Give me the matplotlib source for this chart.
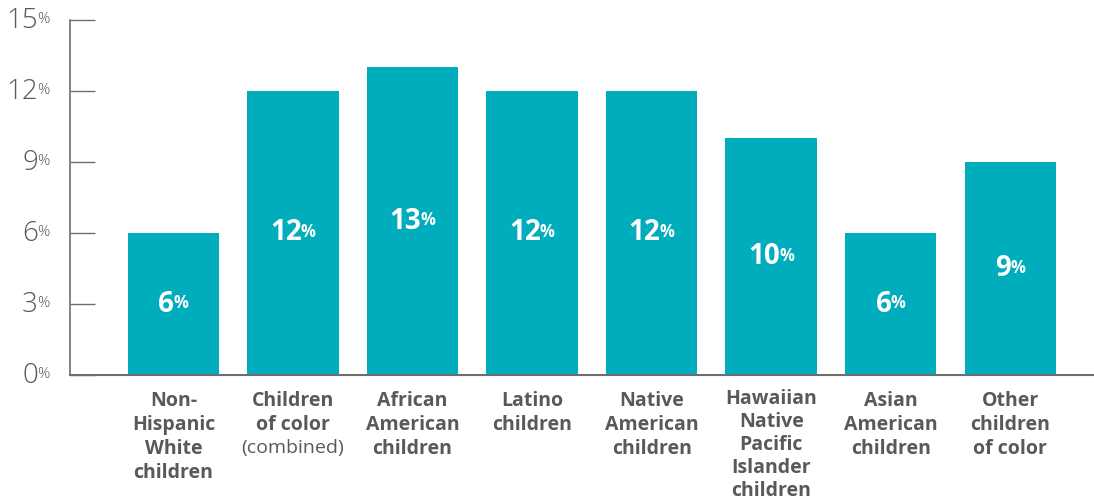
import matplotlib
matplotlib.use('Agg')
import matplotlib.pyplot as plt

# values (percent)
categories = [
    'Non-\nHispanic\nWhite\nchildren',
    'Children\nof color\n(combined)',
    'African\nAmerican\nchildren',
    'Latino\nchildren',
    'Native\nAmerican\nchildren',
    'Hawaiian\nNative\nPacific\nIslander\nchildren',
    'Asian\nAmerican\nchildren',
    'Other\nchildren\nof color',
]
values = [6, 12, 13, 12, 12, 10, 6, 9]
yticks = [0, 3, 6, 9, 12, 15]
light_lines = ['(combined)']

teal = '#00adbd'
gray = '#58595b'
axis_gray = '#6d6e70'
font = ['Open Sans', 'DejaVu Sans']

plt.rcParams['font.family'] = font

fig = plt.figure(figsize=(10.94, 5.04), dpi=100)
ax = fig.add_axes([70 / 1094, 129 / 504, 1024 / 1094, 355 / 504])

x = list(range(len(values)))
ax.bar(x, values, width=0.765, color=teal, zorder=2)
ax.set_xlim(-0.865, 7.70)
ax.set_ylim(0, 15)

for s in ['top', 'right']:
    ax.spines[s].set_visible(False)
ax.spines['left'].set_color(axis_gray)
ax.spines['bottom'].set_color(axis_gray)
ax.spines['left'].set_linewidth(1.2)
ax.spines['bottom'].set_linewidth(1.5)

ax.set_xticks([])
ax.set_yticks(yticks)
ax.tick_params(axis='y', direction='in', length=18, width=1, color=axis_gray,
               labelleft=False)

# y tick labels with small superscript %
for v in yticks:
    t = ax.annotate(str(v), xy=(0, v), xycoords=('axes fraction', 'data'),
                    xytext=(-32, -1), textcoords='offset pixels',
                    ha='right', va='center', fontsize=20, color=gray,
                    fontweight='light')
    ax.annotate('%', xy=(1, 0.82), xycoords=t, xytext=(-1, 0),
                textcoords='offset pixels', ha='left', va='top',
                fontsize=11, color=gray, fontweight='light')

# value labels inside the bars
for i, v in enumerate(values):
    t = ax.annotate(str(v), xy=(i, v / 2), xycoords='data',
                    xytext=(-7, 0), textcoords='offset pixels',
                    ha='center', va='center', fontsize=20, color='white',
                    fontweight='bold')
    ax.annotate('%', xy=(1, 0.84), xycoords=t, xytext=(-1, 0),
                textcoords='offset pixels', ha='left', va='top',
                fontsize=12, color='white', fontweight='bold')

# category labels under the axis
for i, lab in enumerate(categories):
    lines = lab.split('\n')
    top, step = (-14, 23) if len(lines) > 4 else (-16, 24)
    for k, line in enumerate(lines):
        w = 'normal' if line in light_lines else 'bold'
        ax.annotate(line, xy=(i, 0), xycoords=('data', 'axes fraction'),
                    xytext=(0, top - step * k), textcoords='offset pixels',
                    ha='center', va='top', fontsize=14, color=gray,
                    fontweight=w)

fig.savefig('out.png', dpi=100)
